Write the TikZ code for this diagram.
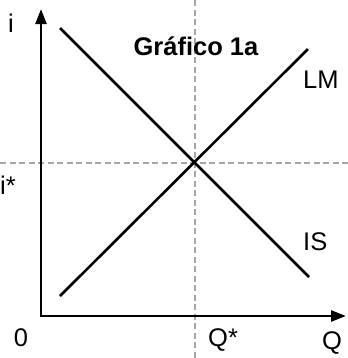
\documentclass[tikz,border=0pt]{standalone}
\usepackage{fontspec}
\setmainfont{Liberation Sans}
\usetikzlibrary{arrows.meta}
\tikzset{
  axis/.style={line width=2.6bp, -{Triangle[length=15bp,width=11bp]}},
  curve/.style={line width=2.6bp},
  guide/.style={line width=1.4bp, gray!70, dash pattern=on 6bp off 3.5bp},
  lbl/.style={inner sep=0pt, font=\fontsize{25.5bp}{30bp}\selectfont},
}
\begin{document}
\begin{tikzpicture}[x=1bp,y=-1bp]
\useasboundingbox (0,0) rectangle (348,358);
\coordinate (o) at (41,316);
\coordinate (ytip) at (41,9);
\coordinate (xtip) at (346,316);
\coordinate (vtop) at (195,0);
\coordinate (vbot) at (195,358);
\coordinate (hl) at (0,163);
\coordinate (hr) at (348,163);
\coordinate (is1) at (60,28);
\coordinate (is2) at (309,277);
\coordinate (lm1) at (60,296);
\coordinate (lm2) at (308,49);
\draw[guide] (vtop) -- (vbot);
\draw[guide] (hl) -- (hr);
\draw[axis] ([yshift=1.3bp]o) -- (ytip);
\draw[axis] ([xshift=-1.3bp]o) -- (xtip);
\draw[curve] (is1) -- (is2);
\draw[curve] (lm1) -- (lm2);
\node[lbl, anchor=base] (li) at (11,32) {i};
\node[lbl, anchor=base west] (listar) at (0,194) {i*};
\node[lbl, anchor=base] (lzero) at (21,346) {0};
\node[lbl, anchor=base west] (lqstar) at (208,346) {Q*};
\node[lbl, anchor=base] (lq) at (332,349) {Q};
\node[lbl, anchor=base west] (llm) at (303,88) {LM};
\node[lbl, anchor=base west] (lis) at (303,250) {IS};
\node[lbl, anchor=base, font=\fontsize{25.5bp}{30bp}\selectfont\bfseries] (title) at (196,55) {Gráfico 1a};
\end{tikzpicture}
\end{document}
